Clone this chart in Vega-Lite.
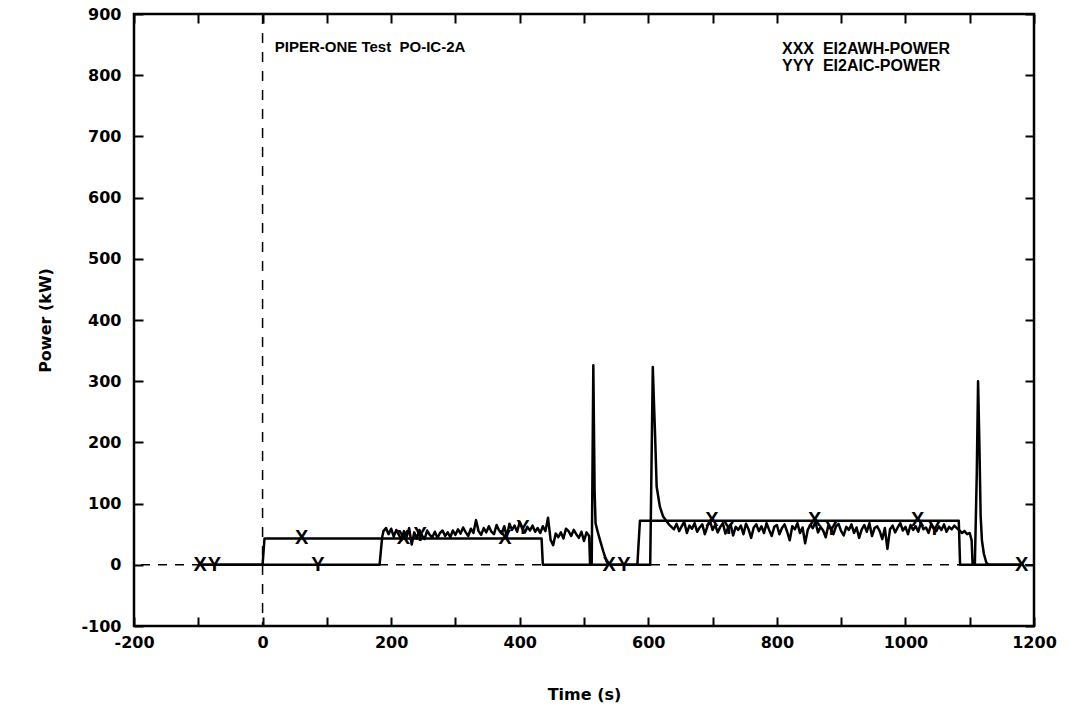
{
  "$schema": "https://vega.github.io/schema/vega-lite/v6.json",
  "width": 900,
  "height": 612,
  "autosize": {"type": "none"},
  "padding": {"left": 134, "top": 14, "right": 34, "bottom": 87},
  "background": "white",
  "config": {
    "view": {"stroke": "black", "strokeWidth": 2.5},
    "axis": {
      "domain": false, "offset": -9, "tickColor": "black", "tickWidth": 2,
      "tickSize": 9, "grid": false, "labelFont": "DejaVu Sans", "labelFontWeight": "bold",
      "labelFontSize": 16, "labelColor": "black", "titleFont": "DejaVu Sans",
      "titleFontWeight": "bold", "titleFontSize": 16, "titleColor": "black"
    }
  },
  "datasets": {
    "power": [
      {"s": "EI2AWH-POWER", "t": -100, "p": 0},
      {"s": "EI2AWH-POWER", "t": 0, "p": 0},
      {"s": "EI2AWH-POWER", "t": 3, "p": 43},
      {"s": "EI2AWH-POWER", "t": 150, "p": 43},
      {"s": "EI2AWH-POWER", "t": 300, "p": 43},
      {"s": "EI2AWH-POWER", "t": 434, "p": 43},
      {"s": "EI2AWH-POWER", "t": 436, "p": 0},
      {"s": "EI2AWH-POWER", "t": 583, "p": 0},
      {"s": "EI2AWH-POWER", "t": 587, "p": 72},
      {"s": "EI2AWH-POWER", "t": 800, "p": 72},
      {"s": "EI2AWH-POWER", "t": 1083, "p": 72},
      {"s": "EI2AWH-POWER", "t": 1085, "p": 0},
      {"s": "EI2AWH-POWER", "t": 1180, "p": 0},
      {"s": "EI2AIC-POWER", "t": -100, "p": 0},
      {"s": "EI2AIC-POWER", "t": 182, "p": 0},
      {"s": "EI2AIC-POWER", "t": 186, "p": 45},
      {"s": "EI2AIC-POWER", "t": 188, "p": 55},
      {"s": "EI2AIC-POWER", "t": 192, "p": 60},
      {"s": "EI2AIC-POWER", "t": 196, "p": 50},
      {"s": "EI2AIC-POWER", "t": 200, "p": 59},
      {"s": "EI2AIC-POWER", "t": 204, "p": 46},
      {"s": "EI2AIC-POWER", "t": 208, "p": 57},
      {"s": "EI2AIC-POWER", "t": 212, "p": 49},
      {"s": "EI2AIC-POWER", "t": 216, "p": 40},
      {"s": "EI2AIC-POWER", "t": 220, "p": 55},
      {"s": "EI2AIC-POWER", "t": 224, "p": 45},
      {"s": "EI2AIC-POWER", "t": 228, "p": 60},
      {"s": "EI2AIC-POWER", "t": 232, "p": 33},
      {"s": "EI2AIC-POWER", "t": 236, "p": 53},
      {"s": "EI2AIC-POWER", "t": 240, "p": 43},
      {"s": "EI2AIC-POWER", "t": 244, "p": 57},
      {"s": "EI2AIC-POWER", "t": 248, "p": 48},
      {"s": "EI2AIC-POWER", "t": 252, "p": 42},
      {"s": "EI2AIC-POWER", "t": 256, "p": 56},
      {"s": "EI2AIC-POWER", "t": 260, "p": 49},
      {"s": "EI2AIC-POWER", "t": 264, "p": 45},
      {"s": "EI2AIC-POWER", "t": 268, "p": 54},
      {"s": "EI2AIC-POWER", "t": 272, "p": 44},
      {"s": "EI2AIC-POWER", "t": 276, "p": 52},
      {"s": "EI2AIC-POWER", "t": 280, "p": 56},
      {"s": "EI2AIC-POWER", "t": 284, "p": 47},
      {"s": "EI2AIC-POWER", "t": 288, "p": 53},
      {"s": "EI2AIC-POWER", "t": 292, "p": 45},
      {"s": "EI2AIC-POWER", "t": 296, "p": 56},
      {"s": "EI2AIC-POWER", "t": 300, "p": 49},
      {"s": "EI2AIC-POWER", "t": 304, "p": 58},
      {"s": "EI2AIC-POWER", "t": 308, "p": 51},
      {"s": "EI2AIC-POWER", "t": 312, "p": 61},
      {"s": "EI2AIC-POWER", "t": 316, "p": 53},
      {"s": "EI2AIC-POWER", "t": 320, "p": 47},
      {"s": "EI2AIC-POWER", "t": 324, "p": 59},
      {"s": "EI2AIC-POWER", "t": 328, "p": 52},
      {"s": "EI2AIC-POWER", "t": 332, "p": 73},
      {"s": "EI2AIC-POWER", "t": 336, "p": 55},
      {"s": "EI2AIC-POWER", "t": 340, "p": 49},
      {"s": "EI2AIC-POWER", "t": 344, "p": 60},
      {"s": "EI2AIC-POWER", "t": 348, "p": 53},
      {"s": "EI2AIC-POWER", "t": 352, "p": 63},
      {"s": "EI2AIC-POWER", "t": 356, "p": 54},
      {"s": "EI2AIC-POWER", "t": 360, "p": 50},
      {"s": "EI2AIC-POWER", "t": 364, "p": 65},
      {"s": "EI2AIC-POWER", "t": 368, "p": 56},
      {"s": "EI2AIC-POWER", "t": 372, "p": 51},
      {"s": "EI2AIC-POWER", "t": 376, "p": 63},
      {"s": "EI2AIC-POWER", "t": 380, "p": 46},
      {"s": "EI2AIC-POWER", "t": 384, "p": 67},
      {"s": "EI2AIC-POWER", "t": 388, "p": 57},
      {"s": "EI2AIC-POWER", "t": 392, "p": 64},
      {"s": "EI2AIC-POWER", "t": 396, "p": 54},
      {"s": "EI2AIC-POWER", "t": 400, "p": 70},
      {"s": "EI2AIC-POWER", "t": 404, "p": 59},
      {"s": "EI2AIC-POWER", "t": 408, "p": 53},
      {"s": "EI2AIC-POWER", "t": 412, "p": 62},
      {"s": "EI2AIC-POWER", "t": 416, "p": 56},
      {"s": "EI2AIC-POWER", "t": 420, "p": 64},
      {"s": "EI2AIC-POWER", "t": 424, "p": 54},
      {"s": "EI2AIC-POWER", "t": 428, "p": 60},
      {"s": "EI2AIC-POWER", "t": 432, "p": 52},
      {"s": "EI2AIC-POWER", "t": 436, "p": 63},
      {"s": "EI2AIC-POWER", "t": 440, "p": 55},
      {"s": "EI2AIC-POWER", "t": 444, "p": 77},
      {"s": "EI2AIC-POWER", "t": 448, "p": 41},
      {"s": "EI2AIC-POWER", "t": 452, "p": 32},
      {"s": "EI2AIC-POWER", "t": 456, "p": 51},
      {"s": "EI2AIC-POWER", "t": 460, "p": 45},
      {"s": "EI2AIC-POWER", "t": 464, "p": 53},
      {"s": "EI2AIC-POWER", "t": 468, "p": 43},
      {"s": "EI2AIC-POWER", "t": 472, "p": 59},
      {"s": "EI2AIC-POWER", "t": 476, "p": 55},
      {"s": "EI2AIC-POWER", "t": 480, "p": 47},
      {"s": "EI2AIC-POWER", "t": 484, "p": 57},
      {"s": "EI2AIC-POWER", "t": 488, "p": 50},
      {"s": "EI2AIC-POWER", "t": 492, "p": 44},
      {"s": "EI2AIC-POWER", "t": 496, "p": 54},
      {"s": "EI2AIC-POWER", "t": 500, "p": 39},
      {"s": "EI2AIC-POWER", "t": 504, "p": 53},
      {"s": "EI2AIC-POWER", "t": 508, "p": 47},
      {"s": "EI2AIC-POWER", "t": 509.5, "p": 0},
      {"s": "EI2AIC-POWER", "t": 512, "p": 0},
      {"s": "EI2AIC-POWER", "t": 514.5, "p": 326},
      {"s": "EI2AIC-POWER", "t": 516.5, "p": 120},
      {"s": "EI2AIC-POWER", "t": 518, "p": 68},
      {"s": "EI2AIC-POWER", "t": 521, "p": 55},
      {"s": "EI2AIC-POWER", "t": 525, "p": 40},
      {"s": "EI2AIC-POWER", "t": 530, "p": 22},
      {"s": "EI2AIC-POWER", "t": 535, "p": 6},
      {"s": "EI2AIC-POWER", "t": 538, "p": 0},
      {"s": "EI2AIC-POWER", "t": 603, "p": 0},
      {"s": "EI2AIC-POWER", "t": 607, "p": 323},
      {"s": "EI2AIC-POWER", "t": 609, "p": 260},
      {"s": "EI2AIC-POWER", "t": 610.5, "p": 215},
      {"s": "EI2AIC-POWER", "t": 613, "p": 128},
      {"s": "EI2AIC-POWER", "t": 618, "p": 95},
      {"s": "EI2AIC-POWER", "t": 623, "p": 79},
      {"s": "EI2AIC-POWER", "t": 628, "p": 72},
      {"s": "EI2AIC-POWER", "t": 632, "p": 66},
      {"s": "EI2AIC-POWER", "t": 636, "p": 62},
      {"s": "EI2AIC-POWER", "t": 640, "p": 58},
      {"s": "EI2AIC-POWER", "t": 644, "p": 67},
      {"s": "EI2AIC-POWER", "t": 648, "p": 55},
      {"s": "EI2AIC-POWER", "t": 652, "p": 63},
      {"s": "EI2AIC-POWER", "t": 656, "p": 70},
      {"s": "EI2AIC-POWER", "t": 660, "p": 52},
      {"s": "EI2AIC-POWER", "t": 664, "p": 64},
      {"s": "EI2AIC-POWER", "t": 668, "p": 59},
      {"s": "EI2AIC-POWER", "t": 672, "p": 68},
      {"s": "EI2AIC-POWER", "t": 676, "p": 54},
      {"s": "EI2AIC-POWER", "t": 680, "p": 61},
      {"s": "EI2AIC-POWER", "t": 684, "p": 66},
      {"s": "EI2AIC-POWER", "t": 688, "p": 50},
      {"s": "EI2AIC-POWER", "t": 692, "p": 63},
      {"s": "EI2AIC-POWER", "t": 696, "p": 72},
      {"s": "EI2AIC-POWER", "t": 700, "p": 57},
      {"s": "EI2AIC-POWER", "t": 704, "p": 65},
      {"s": "EI2AIC-POWER", "t": 708, "p": 53},
      {"s": "EI2AIC-POWER", "t": 712, "p": 62},
      {"s": "EI2AIC-POWER", "t": 716, "p": 68},
      {"s": "EI2AIC-POWER", "t": 720, "p": 51},
      {"s": "EI2AIC-POWER", "t": 724, "p": 60},
      {"s": "EI2AIC-POWER", "t": 728, "p": 66},
      {"s": "EI2AIC-POWER", "t": 732, "p": 48},
      {"s": "EI2AIC-POWER", "t": 736, "p": 62},
      {"s": "EI2AIC-POWER", "t": 740, "p": 57},
      {"s": "EI2AIC-POWER", "t": 744, "p": 64},
      {"s": "EI2AIC-POWER", "t": 748, "p": 50},
      {"s": "EI2AIC-POWER", "t": 752, "p": 67},
      {"s": "EI2AIC-POWER", "t": 756, "p": 58},
      {"s": "EI2AIC-POWER", "t": 760, "p": 44},
      {"s": "EI2AIC-POWER", "t": 764, "p": 61},
      {"s": "EI2AIC-POWER", "t": 768, "p": 66},
      {"s": "EI2AIC-POWER", "t": 772, "p": 55},
      {"s": "EI2AIC-POWER", "t": 776, "p": 63},
      {"s": "EI2AIC-POWER", "t": 780, "p": 52},
      {"s": "EI2AIC-POWER", "t": 784, "p": 68},
      {"s": "EI2AIC-POWER", "t": 788, "p": 57},
      {"s": "EI2AIC-POWER", "t": 792, "p": 47},
      {"s": "EI2AIC-POWER", "t": 796, "p": 62},
      {"s": "EI2AIC-POWER", "t": 800, "p": 65},
      {"s": "EI2AIC-POWER", "t": 804, "p": 50},
      {"s": "EI2AIC-POWER", "t": 808, "p": 60},
      {"s": "EI2AIC-POWER", "t": 812, "p": 66},
      {"s": "EI2AIC-POWER", "t": 816, "p": 54},
      {"s": "EI2AIC-POWER", "t": 820, "p": 40},
      {"s": "EI2AIC-POWER", "t": 824, "p": 63},
      {"s": "EI2AIC-POWER", "t": 828, "p": 58},
      {"s": "EI2AIC-POWER", "t": 832, "p": 68},
      {"s": "EI2AIC-POWER", "t": 836, "p": 52},
      {"s": "EI2AIC-POWER", "t": 840, "p": 61},
      {"s": "EI2AIC-POWER", "t": 844, "p": 35},
      {"s": "EI2AIC-POWER", "t": 848, "p": 57},
      {"s": "EI2AIC-POWER", "t": 852, "p": 65},
      {"s": "EI2AIC-POWER", "t": 856, "p": 60},
      {"s": "EI2AIC-POWER", "t": 860, "p": 70},
      {"s": "EI2AIC-POWER", "t": 864, "p": 53},
      {"s": "EI2AIC-POWER", "t": 868, "p": 62},
      {"s": "EI2AIC-POWER", "t": 872, "p": 56},
      {"s": "EI2AIC-POWER", "t": 876, "p": 45},
      {"s": "EI2AIC-POWER", "t": 880, "p": 64},
      {"s": "EI2AIC-POWER", "t": 884, "p": 58},
      {"s": "EI2AIC-POWER", "t": 888, "p": 50},
      {"s": "EI2AIC-POWER", "t": 892, "p": 63},
      {"s": "EI2AIC-POWER", "t": 896, "p": 67},
      {"s": "EI2AIC-POWER", "t": 900, "p": 55},
      {"s": "EI2AIC-POWER", "t": 904, "p": 48},
      {"s": "EI2AIC-POWER", "t": 908, "p": 62},
      {"s": "EI2AIC-POWER", "t": 912, "p": 57},
      {"s": "EI2AIC-POWER", "t": 916, "p": 66},
      {"s": "EI2AIC-POWER", "t": 920, "p": 52},
      {"s": "EI2AIC-POWER", "t": 924, "p": 61},
      {"s": "EI2AIC-POWER", "t": 928, "p": 44},
      {"s": "EI2AIC-POWER", "t": 932, "p": 58},
      {"s": "EI2AIC-POWER", "t": 936, "p": 65},
      {"s": "EI2AIC-POWER", "t": 940, "p": 54},
      {"s": "EI2AIC-POWER", "t": 944, "p": 68},
      {"s": "EI2AIC-POWER", "t": 948, "p": 47},
      {"s": "EI2AIC-POWER", "t": 952, "p": 60},
      {"s": "EI2AIC-POWER", "t": 956, "p": 63},
      {"s": "EI2AIC-POWER", "t": 960, "p": 55},
      {"s": "EI2AIC-POWER", "t": 964, "p": 42},
      {"s": "EI2AIC-POWER", "t": 968, "p": 60},
      {"s": "EI2AIC-POWER", "t": 972, "p": 26},
      {"s": "EI2AIC-POWER", "t": 976, "p": 58},
      {"s": "EI2AIC-POWER", "t": 980, "p": 64},
      {"s": "EI2AIC-POWER", "t": 984, "p": 53},
      {"s": "EI2AIC-POWER", "t": 988, "p": 61},
      {"s": "EI2AIC-POWER", "t": 992, "p": 68},
      {"s": "EI2AIC-POWER", "t": 996, "p": 56},
      {"s": "EI2AIC-POWER", "t": 1000, "p": 62},
      {"s": "EI2AIC-POWER", "t": 1004, "p": 50},
      {"s": "EI2AIC-POWER", "t": 1008, "p": 65},
      {"s": "EI2AIC-POWER", "t": 1012, "p": 57},
      {"s": "EI2AIC-POWER", "t": 1016, "p": 63},
      {"s": "EI2AIC-POWER", "t": 1020, "p": 54},
      {"s": "EI2AIC-POWER", "t": 1024, "p": 69},
      {"s": "EI2AIC-POWER", "t": 1028, "p": 58},
      {"s": "EI2AIC-POWER", "t": 1032, "p": 61},
      {"s": "EI2AIC-POWER", "t": 1036, "p": 52},
      {"s": "EI2AIC-POWER", "t": 1040, "p": 66},
      {"s": "EI2AIC-POWER", "t": 1044, "p": 59},
      {"s": "EI2AIC-POWER", "t": 1048, "p": 55},
      {"s": "EI2AIC-POWER", "t": 1052, "p": 63},
      {"s": "EI2AIC-POWER", "t": 1056, "p": 57},
      {"s": "EI2AIC-POWER", "t": 1060, "p": 66},
      {"s": "EI2AIC-POWER", "t": 1064, "p": 54},
      {"s": "EI2AIC-POWER", "t": 1068, "p": 62},
      {"s": "EI2AIC-POWER", "t": 1072, "p": 58},
      {"s": "EI2AIC-POWER", "t": 1076, "p": 64},
      {"s": "EI2AIC-POWER", "t": 1080, "p": 60},
      {"s": "EI2AIC-POWER", "t": 1084, "p": 56},
      {"s": "EI2AIC-POWER", "t": 1088, "p": 52},
      {"s": "EI2AIC-POWER", "t": 1092, "p": 55},
      {"s": "EI2AIC-POWER", "t": 1096, "p": 50},
      {"s": "EI2AIC-POWER", "t": 1100, "p": 52},
      {"s": "EI2AIC-POWER", "t": 1103, "p": 40},
      {"s": "EI2AIC-POWER", "t": 1104.5, "p": 0},
      {"s": "EI2AIC-POWER", "t": 1108, "p": 0},
      {"s": "EI2AIC-POWER", "t": 1111, "p": 150},
      {"s": "EI2AIC-POWER", "t": 1113, "p": 300},
      {"s": "EI2AIC-POWER", "t": 1115, "p": 200},
      {"s": "EI2AIC-POWER", "t": 1117, "p": 80},
      {"s": "EI2AIC-POWER", "t": 1119, "p": 40},
      {"s": "EI2AIC-POWER", "t": 1122, "p": 18},
      {"s": "EI2AIC-POWER", "t": 1126, "p": 3},
      {"s": "EI2AIC-POWER", "t": 1130, "p": 0},
      {"s": "EI2AIC-POWER", "t": 1180, "p": 0}
    ],
    "markers": [
      {"m": "X", "t": -97, "p": 0},
      {"m": "X", "t": 61, "p": 43},
      {"m": "X", "t": 219, "p": 43},
      {"m": "X", "t": 377, "p": 43},
      {"m": "X", "t": 539, "p": 0},
      {"m": "X", "t": 699, "p": 74},
      {"m": "X", "t": 859, "p": 74},
      {"m": "X", "t": 1019, "p": 74},
      {"m": "X", "t": 1181, "p": 0},
      {"m": "Y", "t": -75, "p": 0},
      {"m": "Y", "t": 86, "p": 0},
      {"m": "Y", "t": 245, "p": 48},
      {"m": "Y", "t": 405, "p": 60},
      {"m": "Y", "t": 562, "p": 0},
      {"m": "Y", "t": 725, "p": 60},
      {"m": "Y", "t": 885, "p": 58},
      {"m": "Y", "t": 1045, "p": 59}
    ]
  },
  "layer": [
    {
      "data": {"values": [{"z": 0}]},
      "mark": {"type": "rule", "color": "black", "strokeWidth": 1.5, "strokeDash": [9, 8]},
      "encoding": {
        "y": {"datum": 0, "type": "quantitative", "scale": {"domain": [-100, 900]},
          "axis": {"orient": "right", "values": [-100, 0, 100, 200, 300, 400, 500, 600, 700, 800, 900], "labels": false, "title": null}}
      }
    },
    {
      "data": {"values": [{"z": 0}]},
      "mark": {"type": "rule", "color": "black", "strokeWidth": 1.5, "strokeDash": [10, 9]},
      "encoding": {
        "x": {"datum": 0, "type": "quantitative", "scale": {"domain": [-200, 1200]},
          "axis": {"orient": "top", "values": [-200, -100, 0, 100, 200, 300, 400, 500, 600, 700, 800, 900, 1000, 1100, 1200], "labels": false, "title": null}}
      }
    },
    {
      "data": {"name": "power"},
      "mark": {"type": "line", "color": "black", "strokeWidth": 2.5, "strokeJoin": "round"},
      "encoding": {
        "x": {"field": "t", "type": "quantitative", "scale": {"domain": [-200, 1200], "nice": false},
          "axis": {"orient": "bottom", "title": "Time (s)", "values": [-200, -100, 0, 100, 200, 300, 400, 500, 600, 700, 800, 900, 1000, 1100, 1200],
            "labelExpr": "datum.value % 200 == 0 ? '' + datum.value : ''", "labelPadding": 8, "titlePadding": 36, "labelFlush": false}},
        "y": {"field": "p", "type": "quantitative", "scale": {"domain": [-100, 900], "nice": false},
          "axis": {"orient": "left", "title": "Power (kW)", "values": [-100, 0, 100, 200, 300, 400, 500, 600, 700, 800, 900],
            "labelExpr": "'' + datum.value", "labelPadding": 13, "titlePadding": 27, "labelFlush": false}},
        "detail": {"field": "s"}
      }
    },
    {
      "data": {"name": "markers"},
      "mark": {"type": "text", "font": "Liberation Sans", "fontWeight": "bold", "fontSize": 20, "baseline": "middle", "align": "center", "color": "black"},
      "encoding": {
        "x": {"field": "t", "type": "quantitative", "axis": null},
        "y": {"field": "p", "type": "quantitative", "axis": null},
        "text": {"field": "m"}
      }
    },
    {
      "data": {"values": [{"label": "PIPER-ONE Test\u00a0 PO-IC-2A"}]},
      "mark": {"type": "text", "font": "Liberation Sans", "fontWeight": "bold", "fontSize": 15, "baseline": "middle", "align": "left", "color": "black"},
      "encoding": {
        "x": {"datum": 19, "type": "quantitative", "axis": null},
        "y": {"datum": 846, "type": "quantitative", "axis": null},
        "text": {"field": "label"}
      }
    },
    {
      "data": {"values": [{"label": "XXX\u00a0\u00a0EI2AWH-POWER"}]},
      "mark": {"type": "text", "font": "Liberation Sans", "fontWeight": "bold", "fontSize": 16, "baseline": "middle", "align": "left", "color": "black"},
      "encoding": {
        "x": {"datum": 808, "type": "quantitative", "axis": null},
        "y": {"datum": 843, "type": "quantitative", "axis": null},
        "text": {"field": "label"}
      }
    },
    {
      "data": {"values": [{"label": "YYY\u00a0\u00a0EI2AIC-POWER"}]},
      "mark": {"type": "text", "font": "Liberation Sans", "fontWeight": "bold", "fontSize": 16, "baseline": "middle", "align": "left", "color": "black"},
      "encoding": {
        "x": {"datum": 808, "type": "quantitative", "axis": null},
        "y": {"datum": 815, "type": "quantitative", "axis": null},
        "text": {"field": "label"}
      }
    }
  ],
  "resolve": {"axis": {"x": "independent", "y": "independent"}}
}
